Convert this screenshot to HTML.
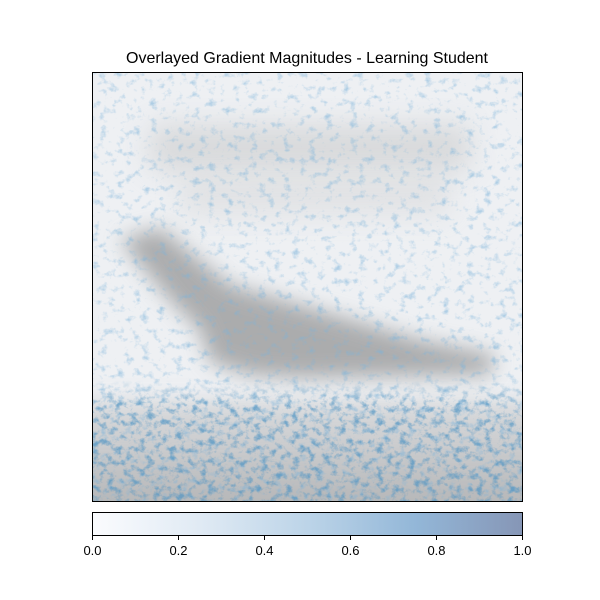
<!DOCTYPE html>
<html><head><meta charset="utf-8"><style>
html,body{margin:0;padding:0;background:#fff;}
svg{display:block;font-family:"Liberation Sans","DejaVu Sans",sans-serif;}
</style></head><body>
<svg width="600" height="600" viewBox="0 0 600 600">
<defs>
<filter id="blur8" x="-50%" y="-50%" width="200%" height="200%"><feGaussianBlur stdDeviation="10"/></filter>
<filter id="blur14" x="-50%" y="-100%" width="200%" height="300%"><feGaussianBlur stdDeviation="14"/></filter>
<filter id="speck" x="0" y="0" width="100%" height="100%">
<feTurbulence type="fractalNoise" baseFrequency="0.12 0.14" numOctaves="4" seed="7" result="n"/>
<feColorMatrix in="n" type="matrix" values="0 0 0 0 0.2  0 0 0 0 0.45  0 0 0 0 0.7  0 0 0 3 -1.65"/>
</filter>
<filter id="speck2" x="0" y="0" width="100%" height="100%">
<feTurbulence type="fractalNoise" baseFrequency="0.13 0.15" numOctaves="4" seed="3" result="n"/>
<feColorMatrix in="n" type="matrix" values="0 0 0 0 0.08  0 0 0 0 0.3  0 0 0 0 0.55  0 0 0 3.2 -1.55"/>
</filter>
<linearGradient id="cbar" x1="0" x2="1" y1="0" y2="0">
<stop offset="0" stop-color="#fbfcfe"/>
<stop offset="0.25" stop-color="#e0eaf4"/>
<stop offset="0.5" stop-color="#bcd4e8"/>
<stop offset="0.75" stop-color="#93b7d8"/>
<stop offset="1" stop-color="#8696b6"/>
</linearGradient>
<linearGradient id="bottomband" x1="0" x2="0" y1="0" y2="1">
<stop offset="0" stop-color="#9a9a9a" stop-opacity="0.25"/>
<stop offset="1" stop-color="#858585" stop-opacity="0.6"/>
</linearGradient>
<linearGradient id="fadeTop" x1="0" x2="0" y1="0" y2="1">
<stop offset="0" stop-color="#fff" stop-opacity="0"/>
<stop offset="0.2" stop-color="#fff" stop-opacity="1"/>
<stop offset="1" stop-color="#fff" stop-opacity="1"/>
</linearGradient>
<mask id="bmask"><rect x="92" y="380" width="431" height="122" fill="url(#fadeTop)"/></mask>
<clipPath id="imgclip"><rect x="92" y="72" width="431" height="430"/></clipPath>
</defs>
<text x="307" y="63" text-anchor="middle" font-size="16" fill="#000">Overlayed Gradient Magnitudes - Learning Student</text>
<g clip-path="url(#imgclip)">
<rect x="92" y="72" width="431" height="430" fill="#eef0f3"/>
<rect x="150" y="125" width="320" height="45" fill="#bdbdbd" opacity="0.45" filter="url(#blur14)"/>
<rect x="180" y="175" width="270" height="40" fill="#c8c8c8" opacity="0.35" filter="url(#blur14)"/>
<path d="M120 240 L160 228 L230 285 L300 305 L420 340 L495 355 L490 375 L300 378 L250 375 L210 362 L200 330 L170 300 Z" fill="#808080" opacity="0.6" filter="url(#blur8)"/>
<rect x="70" y="400" width="480" height="120" fill="url(#bottomband)" filter="url(#blur8)"/>
<rect x="92" y="72" width="431" height="430" filter="url(#speck)" opacity="0.55"/>
<rect x="92" y="380" width="431" height="122" filter="url(#speck2)" opacity="0.7" mask="url(#bmask)"/>
</g>
<rect x="92.5" y="72.5" width="430" height="429" fill="none" stroke="#000" stroke-width="1"/>
<rect x="92.5" y="512.5" width="430" height="23" fill="url(#cbar)" stroke="#000" stroke-width="1"/>
<g id="cbticks"></g>
</svg>
<script>
const tickValues = [0.0, 0.2, 0.4, 0.6, 0.8, 1.0];
const tickLabels = ["0.0", "0.2", "0.4", "0.6", "0.8", "1.0"];
const x0 = 92.5, x1 = 522.5;
function xs(v){ return x0 + (x1 - x0) * v; }
const g = document.getElementById('cbticks');
const NS = "http://www.w3.org/2000/svg";
tickValues.forEach((v, i) => {
  const l = document.createElementNS(NS, 'line');
  l.setAttribute('x1', xs(v)); l.setAttribute('x2', xs(v));
  l.setAttribute('y1', 536); l.setAttribute('y2', 540);
  l.setAttribute('stroke', '#000');
  
  
  g.appendChild(l);
  const t = document.createElementNS(NS, 'text');
  t.setAttribute('x', xs(v)); t.setAttribute('y', 555);
  t.setAttribute('text-anchor', 'middle'); t.setAttribute('font-size', '13');
  t.textContent = tickLabels[i];
  
  
  g.appendChild(t);
});
</script>
</body></html>
